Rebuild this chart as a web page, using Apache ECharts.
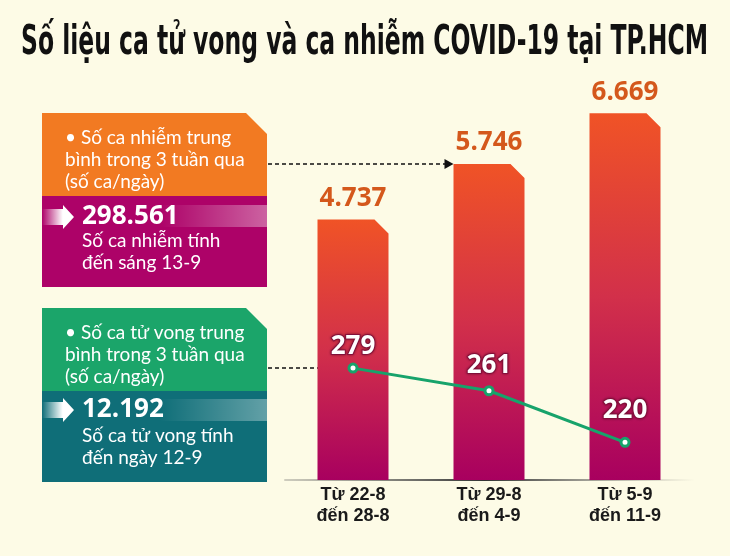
<!DOCTYPE html>
<html><head><meta charset="utf-8">
<script src="https://cdn.jsdelivr.net/npm/echarts@6/dist/echarts.min.js"></script>
<style>html,body{margin:0;padding:0;background:#fdfbe6;}#c{width:730px;height:556px;}</style>
</head><body><div id="c"></div>
<script>
// ---- data ----
const categories = ['Từ 22-8\nđến 28-8', 'Từ 29-8\nđến 4-9', 'Từ 5-9\nđến 11-9'];
const infections = [4737, 5746, 6669];
const deaths = [279, 261, 220];
const totalInfections = '298.561';
const totalDeaths = '12.192';
const titleText = 'Số liệu ca tử vong và ca nhiễm COVID-19 tại TP.HCM';
const box1Lines = ['• Số ca nhiễm trung', 'bình trong 3 tuần qua', '(số ca/ngày)'];
const box2Lines = ['Số ca nhiễm tính', 'đến sáng 13-9'];
const box3Lines = ['• Số ca tử vong trung', 'bình trong 3 tuần qua', '(số ca/ngày)'];
const box4Lines = ['Số ca tử vong tính', 'đến ngày 12-9'];

// ---- style ----
const BG = '#fdfbe6';
const NUM_FONT = '"Open Sans"';
const BOX_FONT = 'Lato';
const BAR_W = 71, CHAMF = 14;
const LABEL_GAPS = [3, 7, 13];
const GREEN = '#17a36b';

function fmt(v) { return String(v).replace(/\B(?=(\d{3})+(?!\d))/g, '.'); }

const chart = echarts.init(document.getElementById('c'), null, {renderer: 'canvas'});

function renderBar(params, api) {
  const i = api.value(0), v = api.value(1);
  const top = api.coord([i, v]);
  const base = api.coord([i, 0]);
  const x0 = top[0] - BAR_W / 2, x1 = top[0] + BAR_W / 2;
  return {
    type: 'group',
    children: [
      {type: 'polygon',
       shape: {points: [[x0, top[1]], [x1 - CHAMF, top[1]], [x1, top[1] + CHAMF], [x1, base[1]], [x0, base[1]]]},
       style: {fill: new echarts.graphic.LinearGradient(0, 0, 0, 1, [
         {offset: 0, color: '#f05326'}, {offset: 0.5, color: '#d2304a'}, {offset: 1, color: '#a8005f'}])}},
      {type: 'text', x: top[0], y: top[1] - 8,
       style: {text: fmt(v), fill: '#d4581c', fontFamily: NUM_FONT, fontWeight: 'bold', fontSize: 26,
               align: 'center', verticalAlign: 'bottom'}}
    ]
  };
}

chart.setOption({
  backgroundColor: BG,
  animation: false,
  grid: {left: 285, right: 37, top: 40, bottom: 76},
  xAxis: {
    type: 'category', data: categories,
    axisTick: {show: false},
    axisLine: {lineStyle: {width: 2, color: new echarts.graphic.LinearGradient(275, 0, 695, 0, [
      {offset: 0, color: 'rgba(90,90,90,0.25)'}, {offset: 0.5, color: '#333'}, {offset: 1, color: 'rgba(90,90,90,0)'}], true)}},
    axisLabel: {color: '#1a1a1a', fontFamily: 'Liberation Sans', fontWeight: 'bold', fontSize: 18, lineHeight: 21, margin: 5}
  },
  yAxis: [
    {type: 'value', min: 0, max: 8000, show: false},
    {type: 'value', min: 190, max: 540, show: false}
  ],
  series: [
    {type: 'custom', renderItem: renderBar, data: infections.map((v, i) => [i, v]), encode: {x: 0, y: 1}, z: 2},
    {type: 'line', yAxisIndex: 1, z: 5,
     data: deaths.map((v, i) => ({value: v, label: {distance: LABEL_GAPS[i]}})),
     symbol: 'circle', symbolSize: 8,
     lineStyle: {color: GREEN, width: 3},
     itemStyle: {color: '#fff', borderColor: GREEN, borderWidth: 3},
     label: {show: true, position: 'top', color: '#fff', fontFamily: NUM_FONT, fontWeight: 'bold', fontSize: 26,
             textBorderColor: '#8e1240', textBorderWidth: 2, textShadowColor: 'rgba(60,0,20,0.5)', textShadowBlur: 3}}
  ]
});

// ---- annotations ----
const ctx = document.createElement('canvas').getContext('2d');
const TITLE_FONT_SIZE = 40;
ctx.font = 'bold ' + TITLE_FONT_SIZE + 'px "DejaVu Sans Condensed"';
const tw = ctx.measureText(titleText).width;
const titleScale = 687 / tw;

function boxShape(x0, y0, x1, y1, c, fill) {
  return {type: 'polygon', shape: {points: c ? [[x0, y0], [x1 - c, y0], [x1, y0 + c], [x1, y1], [x0, y1]] : [[x0, y0], [x1, y0], [x1, y1], [x0, y1]]},
          style: {fill: fill}, silent: true};
}
function txt(x, y, t, size, weight, fam) {
  return {type: 'text', x: x, y: y, silent: true,
          style: {text: t, fill: '#fff', fontSize: size, fontWeight: weight || 'normal', fontFamily: fam || BOX_FONT,
                  align: 'left', verticalAlign: 'middle'}};
}
function arrowIcon(yc) {
  return {type: 'polygon', silent: true,
          shape: {points: [[42, yc - 8], [63, yc - 8], [63, yc - 12], [74, yc], [63, yc + 12], [63, yc + 8], [42, yc + 8]]},
          style: {fill: new echarts.graphic.LinearGradient(0, 0, 1, 0, [
            {offset: 0, color: 'rgba(255,255,255,0)'}, {offset: 0.65, color: 'rgba(255,255,255,1)'}, {offset: 1, color: '#fff'}])}};
}
function stripe(yc, tint) {
  return {type: 'rect', silent: true, shape: {x: 82, y: yc - 11, width: 185, height: 22},
          style: {fill: new echarts.graphic.LinearGradient(0, 0, 1, 0, [
            {offset: 0, color: 'rgba(255,255,255,0)'}, {offset: 0.42, color: 'rgba(255,255,255,0)'}, {offset: 1, color: tint}])}};
}
function dashedArrow(x0, x1, y) {
  return [
    {type: 'line', silent: true, shape: {x1: x0, y1: y, x2: x1 - 8, y2: y},
     style: {stroke: '#111', lineWidth: 1.5, lineDash: [4, 3]}},
    {type: 'polygon', silent: true, shape: {points: [[x1 - 9, y - 5], [x1, y], [x1 - 9, y + 5]]}, style: {fill: '#111'}}
  ];
}

const pBar2 = chart.convertToPixel({seriesIndex: 0}, [1, infections[1]]);
const pLine0 = chart.convertToPixel({seriesIndex: 1}, [0, deaths[0]]);

const g = [
  {type: 'text', x: 21, y: 44, scaleX: titleScale, silent: true,
   style: {text: titleText, fill: '#111', fontFamily: '"DejaVu Sans Condensed"', fontWeight: 'bold', fontSize: TITLE_FONT_SIZE,
           align: 'left', verticalAlign: 'middle'}},
  boxShape(42, 113, 267, 196, 21, '#f27a22'),
  boxShape(42, 196, 267, 287, 0, '#ad0268'),
  boxShape(42, 308, 267, 391, 21, '#1ba56a'),
  boxShape(42, 391, 267, 482, 0, '#0f6e78'),
  stripe(216, 'rgba(255,255,255,0.38)'),
  stripe(410, 'rgba(255,255,255,0.35)'),
  arrowIcon(217), arrowIcon(410),
  txt(65, 138, box1Lines[0], 19), txt(65, 160, box1Lines[1], 19), txt(65, 182, box1Lines[2], 19),
  txt(82, 217, totalInfections, 26, 'bold', NUM_FONT),
  txt(82, 241, box2Lines[0], 19), txt(82, 263, box2Lines[1], 19),
  txt(65, 333, box3Lines[0], 19), txt(65, 355, box3Lines[1], 19), txt(65, 377, box3Lines[2], 19),
  txt(82, 410, totalDeaths, 26, 'bold', NUM_FONT),
  txt(82, 436, box4Lines[0], 19), txt(82, 458, box4Lines[1], 19)
].concat(dashedArrow(268, pBar2[0] - BAR_W / 2, pBar2[1]))
 .concat(dashedArrow(268, pLine0[0] - 7, pLine0[1]));

chart.setOption({graphic: g});
</script>
</body></html>
